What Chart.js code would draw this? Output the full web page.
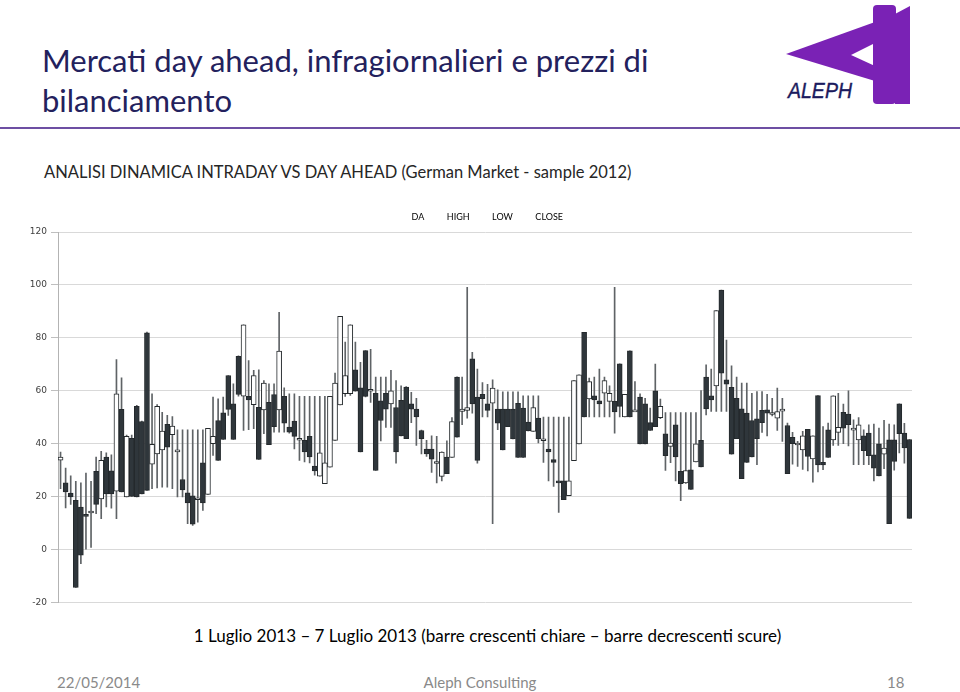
<!DOCTYPE html>
<html>
<head>
<meta charset="utf-8">
<script src="https://cdn.jsdelivr.net/npm/chart.js@4.4.1/dist/chart.umd.min.js"></script>
<style>
  body { margin: 0; background: #fff; }
  #page { position: relative; width: 960px; height: 692px; overflow: hidden; font-family: Lato, "Open Sans", sans-serif; }
  .abs { position: absolute; white-space: nowrap; }
  #title { left: 42px; top: 40px; font-size: 31px; line-height: 40px; color: #23215d; }
  #rule { left: 0; top: 127px; width: 960px; height: 2px; background: #6d4fa3; }
  #subtitle { left: 44px; top: 162px; font-size: 16.5px; color: #262626; }
  #caption { left: 0; width: 975px; text-align: center; top: 625px; font-size: 17px; color: #000; }
  .foot { top: 673px; font-size: 15px; color: #8a8a8a; }
  #chartBox { left: 0; top: 195px; width: 930px; height: 417px; }
</style>
</head>
<body>
<div id="page">
  <div id="title" class="abs">Mercati day ahead, infragiornalieri e prezzi di<br>bilanciamento</div>
  <svg class="abs" style="left:780px;top:0" width="140" height="110">
    <polygon points="6,54 95,22 95,81" fill="#7a22b5"/>
    <polygon points="71,55 95,43 95,66" fill="#fff"/>
    <rect x="93" y="5" width="23" height="99" rx="4" fill="#7a22b5"/>
    <polygon points="115,14 130,6 130,104 115,104" fill="#7a22b5"/>
    <text x="8" y="98" font-family="Liberation Sans" font-style="italic" font-size="22" fill="#1b1b5e" stroke="#1b1b5e" stroke-width="0.4" textLength="64" lengthAdjust="spacingAndGlyphs">ALEPH</text>
  </svg>
  <div id="rule" class="abs"></div>
  <div id="subtitle" class="abs">ANALISI DINAMICA INTRADAY VS DAY AHEAD (German Market - sample 2012)</div>
  <div id="chartBox" class="abs"><canvas id="ohlc"></canvas></div>
  <div id="caption" class="abs">1 Luglio 2013 – 7 Luglio 2013 (barre crescenti chiare – barre decrescenti scure)</div>
  <div class="abs foot" style="left:57px">22/05/2014</div>
  <div class="abs foot" style="left:0;width:960px;text-align:center">Aleph Consulting</div>
  <div class="abs foot" style="left:887px">18</div>
</div>
<script>
// 1-7 July 2013, hourly
const days = ['01/07', '02/07', '03/07', '04/07', '05/07', '06/07', '07/07'];
const hours = ['00','01','02','03','04','05','06','07','08','09','10','11','12','13','14','15','16','17','18','19','20','21','22','23'];
const seriesNames = ['DA', 'HIGH', 'LOW', 'CLOSE'];

const da = [
  33.8, 25.2, 21.4, 18.6, 16.1, 13.3, 14.6, 29.6, 19.2, 35.0, 29.8, 22.1, 53.0, 19.9, 42.1, 54.1, 48.4, 81.9, 32.3, 36.2, 37.7, 47.3, 43.4, 37.7,
  26.5, 21.5, 20.3, 19.6, 32.8, 20.9, 40.0, 48.8, 51.7, 65.8, 55.1, 73.0, 58.0, 57.9, 54.8, 53.8, 52.8, 55.7, 58.6, 52.8, 57.9, 46.3, 48.6, 42.1,
  41.3, 42.8, 31.6, 27.8, 24.9, 31.2, 41.3, 54.7, 58.9, 58.9, 67.9, 61.1, 75.2, 60.6, 59.1, 56.2, 59.1, 55.1, 53.7, 56.4, 61.4, 55.1, 53.1, 45.0,
  38.0, 38.0, 33.3, 27.7, 35.0, 34.8, 65.2, 52.2, 52.6, 72.1, 57.6, 58.7, 55.1, 55.3, 53.1, 53.1, 53.1, 53.1, 55.3, 53.5, 48.2, 44.7, 49.7, 41.9,
  38.0, 34.0, 26.0, 26.0, 20.4, 33.6, 39.9, 82.1, 56.9, 58.1, 56.2, 59.1, 56.0, 56.0, 70.2, 50.1, 75.1, 52.8, 57.6, 55.1, 48.0, 60.0, 49.9, 43.8,
  39.0, 47.2, 29.6, 25.2, 30.2, 33.1, 41.3, 65.2, 58.1, 61.9, 98.1, 64.2, 61.3, 57.2, 53.2, 51.6, 48.8, 49.4, 52.6, 52.8, 51.8, 49.7, 53.1, 46.9,
  42.4, 40.3, 37.7, 45.5, 34.3, 58.2, 33.0, 45.3, 41.5, 44.3, 51.9, 51.2, 45.9, 41.5, 43.0, 44.0, 35.8, 40.0, 36.1, 41.5, 41.5, 55.1, 44.0, 41.6
];
const high = [
  36.9, 30.8, 27.9, 25.8, 25.2, 28.9, 25.8, 35.0, 37.1, 36.6, 35.8, 71.8, 64.9, 43.3, 43.3, 54.5, 48.6, 82.2, 58.9, 54.8, 51.9, 50.7, 50.3, 45.3,
  45.3, 45.3, 45.3, 45.3, 45.3, 45.8, 57.6, 57.0, 57.6, 65.8, 62.6, 73.2, 84.9, 71.4, 67.7, 67.9, 63.9, 62.6, 62.6, 89.7, 61.1, 58.9, 58.9, 57.9,
  57.9, 57.9, 57.9, 57.9, 57.9, 57.9, 66.7, 88.1, 78.4, 84.9, 78.4, 70.8, 75.2, 75.7, 65.2, 65.2, 65.2, 67.7, 63.9, 61.9, 61.6, 59.4, 57.2, 45.2,
  41.3, 43.0, 42.8, 37.0, 41.1, 49.9, 65.3, 65.2, 99.1, 74.5, 68.2, 63.1, 62.5, 64.2, 60.4, 59.6, 59.6, 59.6, 59.6, 58.1, 58.1, 58.1, 58.1, 50.1,
  50.1, 50.1, 50.1, 50.1, 50.1, 63.9, 66.0, 82.1, 64.8, 65.2, 68.2, 65.2, 61.9, 99.1, 70.2, 58.7, 75.1, 63.5, 58.9, 57.2, 53.5, 70.1, 56.9, 51.8,
  51.8, 51.8, 51.8, 51.8, 51.8, 51.8, 60.1, 69.8, 68.2, 90.3, 98.1, 79.2, 69.4, 65.2, 62.9, 62.9, 59.1, 59.7, 59.7, 58.7, 57.2, 61.0, 57.2, 47.8,
  44.3, 40.9, 44.7, 45.5, 43.0, 58.2, 46.5, 47.8, 58.1, 59.1, 55.0, 60.0, 49.0, 49.9, 45.3, 47.2, 47.4, 45.9, 48.9, 47.4, 47.2, 55.1, 47.7, 41.6
];
const low = [
  23.0, 15.8, 17.1, -14.3, -5.3, 0.0, 0.8, 13.6, 11.7, 16.1, 15.7, 11.7, 21.8, 19.9, 20.1, 19.9, 21.1, 22.4, 23.0, 23.3, 23.6, 23.6, 23.0, 19.9,
  19.9, 9.8, 9.2, 10.4, 14.8, 20.9, 35.6, 33.7, 41.6, 50.7, 41.6, 58.0, 45.0, 45.3, 45.7, 34.1, 43.8, 39.7, 44.4, 44.4, 44.4, 44.0, 38.1, 33.7,
  33.1, 32.8, 28.1, 27.8, 24.9, 31.2, 41.3, 54.7, 57.9, 58.3, 59.9, 36.9, 57.7, 55.6, 29.9, 41.1, 46.2, 46.2, 32.7, 43.0, 41.9, 48.0, 39.4, 36.2,
  35.2, 29.2, 25.2, 26.0, 28.7, 34.8, 42.5, 47.2, 49.7, 51.6, 32.7, 50.1, 50.1, 9.8, 45.3, 37.7, 46.5, 41.8, 34.8, 34.8, 44.9, 44.7, 40.3, 33.0,
  26.0, 23.9, 14.1, 18.9, 20.4, 33.6, 39.9, 50.1, 50.1, 50.1, 50.1, 50.1, 50.1, 44.0, 50.1, 50.1, 50.1, 52.5, 39.9, 39.9, 45.0, 46.5, 49.5, 29.9,
  32.9, 26.0, 18.5, 25.0, 22.8, 33.1, 31.3, 50.9, 52.2, 52.2, 52.2, 52.2, 36.1, 41.9, 26.8, 33.0, 35.0, 32.1, 44.3, 43.0, 50.5, 45.0, 40.9, 28.7,
  32.3, 31.4, 30.3, 29.7, 25.5, 29.4, 30.2, 34.8, 39.4, 39.4, 40.0, 39.2, 32.1, 32.1, 32.1, 32.1, 26.0, 27.9, 30.6, 9.8, 30.0, 36.5, 32.7, 11.8
];
const close = [
  35.0, 21.8, 19.9, -14.3, -2.1, 12.6, 14.6, 17.1, 33.7, 21.1, 21.1, 58.9, 21.8, 42.8, 20.1, 19.9, 21.1, 22.4, 39.8, 54.1, 44.8, 38.7, 46.7, 37.7,
  22.6, 17.7, 9.6, 19.6, 17.7, 45.8, 42.8, 33.7, 41.6, 53.0, 41.6, 58.6, 84.9, 56.6, 65.8, 34.1, 62.9, 39.7, 46.5, 75.0, 47.8, 44.4, 42.8, 42.1,
  36.9, 35.0, 29.7, 36.6, 32.8, 57.9, 62.9, 88.1, 65.8, 84.9, 59.9, 36.9, 57.9, 60.6, 29.9, 48.8, 53.1, 60.0, 36.9, 43.0, 41.9, 53.1, 50.1, 41.9,
  36.2, 34.2, 33.3, 36.9, 28.7, 48.4, 42.5, 53.1, 53.7, 55.1, 33.7, 57.0, 52.6, 61.0, 47.8, 37.7, 46.5, 41.8, 34.8, 34.8, 44.9, 53.7, 41.9, 41.9,
  36.9, 33.0, 25.2, 18.9, 26.0, 63.9, 66.0, 50.1, 63.5, 56.6, 55.1, 63.9, 59.1, 52.0, 54.1, 58.7, 50.1, 52.8, 39.9, 39.9, 45.0, 46.5, 54.1, 35.5,
  40.3, 35.0, 24.9, 29.9, 22.8, 40.0, 31.3, 53.2, 56.6, 90.3, 66.7, 62.5, 36.1, 41.9, 26.8, 33.0, 35.0, 41.9, 48.0, 51.6, 51.8, 52.2, 53.1, 28.7,
  40.0, 40.3, 43.0, 35.2, 43.0, 32.0, 32.0, 34.8, 58.1, 46.2, 45.9, 47.2, 45.9, 47.2, 37.4, 35.5, 30.8, 27.9, 38.4, 9.8, 33.3, 43.8, 38.4, 11.8
];

const labels = [];
days.forEach(d => hours.forEach(h => labels.push(d + ' ' + h + ':00')));

const upFill = '#ffffff';
const downFill = '#2f363b';

const wicks = labels.map((_, i) => [low[i], high[i]]);
const bodies = labels.map((_, i) => [da[i], close[i]]);
const bodyColors = labels.map((_, i) => close[i] >= da[i] ? upFill : downFill);

const ctx = document.getElementById('ohlc').getContext('2d');
new Chart(ctx, {
  type: 'bar',
  data: {
    labels: labels,
    datasets: [
      {
        label: 'HIGH-LOW',
        data: wicks,
        backgroundColor: '#5f6366',
        barThickness: 1,
        grouped: false,
        order: 2
      },
      {
        label: 'DA-CLOSE',
        data: bodies,
        backgroundColor: bodyColors,
        borderColor: '#24292c',
        borderWidth: 1,
        borderSkipped: false,
        barThickness: 5,
        minBarLength: 2,
        grouped: false,
        order: 1
      }
    ]
  },
  options: {
    responsive: true,
    maintainAspectRatio: false,
    animation: false,
    layout: { padding: { left: 0, right: 18, top: 0, bottom: 8 } },
    plugins: {
      tooltip: { enabled: false },
      legend: {
        position: 'top',
        fullSize: false,
        labels: {
          boxWidth: 0,
          padding: 18,
          color: '#404040',
          font: { family: 'Lato', size: 9 },
          generateLabels: () => seriesNames.map(n => ({
            text: n, fillStyle: 'rgba(0,0,0,0)', strokeStyle: 'rgba(0,0,0,0)', lineWidth: 0
          }))
        }
      }
    },
    scales: {
      x: { display: false },
      y: {
        min: -20,
        max: 120,
        ticks: { stepSize: 20, color: '#404040', padding: 4, font: { family: 'DejaVu Sans', size: 9 } },
        grid: { color: '#d9d9d9', tickLength: 7, tickColor: '#bfbfbf' },
        border: { color: '#b3b3b3' },
        afterFit: scale => { scale.width = 58; }
      }
    }
  }
});
</script>
</body>
</html>
